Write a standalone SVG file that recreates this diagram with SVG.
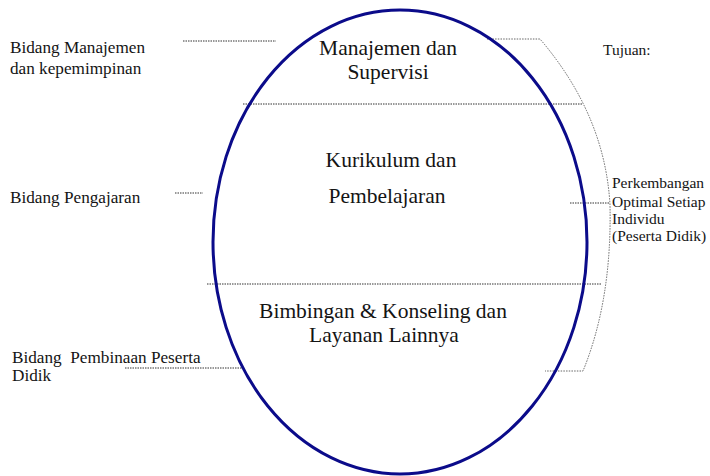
<svg xmlns="http://www.w3.org/2000/svg" width="710" height="476" viewBox="0 0 710 476">
<style>
text{font-family:'Liberation Serif',serif;fill:#141414}
.c{font-size:21.5px;text-anchor:middle}
.l{font-size:17.2px}
.r{font-size:15.5px}
.d{fill:none;stroke:#333;stroke-width:1;stroke-dasharray:1.5 1}
.b{fill:none;stroke:#666;stroke-width:1;stroke-dasharray:1.5 1.2}
</style>
<rect width="710" height="476" fill="#fff"/>
<g id="connectors">
<line class="d" x1="183" y1="41" x2="276" y2="41"/>
<line class="d" x1="175" y1="193" x2="203" y2="193"/>
<line class="d" x1="125" y1="368" x2="243" y2="368"/>
<line class="d" x1="243" y1="104" x2="583" y2="104"/>
<line class="d" x1="207" y1="284" x2="602" y2="284"/>
<line class="d" x1="570" y1="203" x2="610" y2="203"/>
<path class="b" d="M487,39 L540,39 Q605,115 610,205 Q612,300 583,371 L545,371"/>
</g>
<g id="ellipse">
<ellipse cx="400" cy="242" rx="187" ry="232" fill="none" stroke="#0b0b8a" stroke-width="3"/>
</g>
<g id="manajemen">
<text class="c" x="388" y="55">Manajemen dan</text>
<text class="c" x="388" y="79">Supervisi</text>
</g>
<g id="kurikulum">
<text class="c" x="391" y="167">Kurikulum dan</text>
<text class="c" x="387" y="203">Pembelajaran</text>
</g>
<g id="bimbingan">
<text class="c" x="383" y="318">Bimbingan &amp; Konseling dan</text>
<text class="c" x="384" y="342">Layanan Lainnya</text>
</g>
<g id="label-manajemen">
<text class="l" x="10" y="53">Bidang Manajemen</text>
<text class="l" x="10" y="74">dan kepemimpinan</text>
</g>
<g id="label-pengajaran">
<text class="l" x="10" y="203">Bidang Pengajaran</text>
</g>
<g id="label-pembinaan">
<text class="l" x="12" y="363" xml:space="preserve">Bidang  Pembinaan Peserta</text>
<text class="l" x="12" y="381">Didik</text>
</g>
<g id="tujuan">
<text class="r" x="603" y="55">Tujuan:</text>
</g>
<g id="tujuan-text">
<text class="r" x="612" y="188">Perkembangan</text>
<text class="r" x="612" y="207">Optimal Setiap</text>
<text class="r" x="612" y="224">Individu</text>
<text class="r" x="612" y="241">(Peserta Didik)</text>
</g>
</svg>
